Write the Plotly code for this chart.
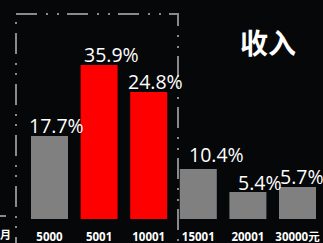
import plotly.graph_objects as go

# ---- data ----
categories = ["5000", "5001", "10001", "15001", "20001", "30000元"]
bar_heights = [83, 154, 127, 50, 27, 32]          # visual bar heights as drawn
pct_labels = ["17.7%", "35.9%", "24.8%", "10.4%", "5.4%", "5.7%"]
highlight = [False, True, True, False, False, False]

# ---- style ----
W, H = 323, 243
B = 24                      # bottom margin (pixels) for tick labels
PH = H - B                  # plot height in px
label_dx = [7, 12, 7, 18, 12, 4]
label_dy = [0, 0, 0, 4, -1, 0]
GREY = "#808080"
RED = "#ff0000"
BG = "#050709"

x_idx = list(range(len(categories)))
colors = [RED if h else GREY for h in highlight]

fig = go.Figure()
fig.add_trace(go.Bar(
    x=x_idx, y=bar_heights, marker=dict(color=colors, line=dict(width=0)),
    width=0.746, hoverinfo="skip",
))

for i, (h, t) in enumerate(zip(bar_heights, pct_labels)):
    fig.add_annotation(
        x=i, y=h, text=t, showarrow=False, xanchor="center", yanchor="bottom",
        xshift=label_dx[i], yshift=-5 + label_dy[i],
        font=dict(family="Open Sans", size=19.5, color="white"),
    )

def px(x):
    return x / W

def py(y):
    return (PH - y) / PH

line_style = dict(color="#8a8a8a", width=2)
# top + right frame line
fig.add_shape(type="path", xref="paper", yref="paper",
              path=f"M{px(16)},{py(14)} L{px(178)},{py(14)} L{px(178)},{py(243)}",
              line=dict(**line_style, dash="21px,9px,2px,9px,2px,8px"))
# left frame line
fig.add_shape(type="line", xref="paper", yref="paper",
              x0=px(16), y0=py(22), x1=px(16), y1=py(243),
              line=dict(**line_style, dash="2px,9px,21px,9px,2px,8px"))
# small stub at far left
fig.add_shape(type="line", xref="paper", yref="paper",
              x0=px(0), y0=py(216), x1=px(6), y1=py(216),
              line=line_style)

fig.add_annotation(xref="paper", yref="paper", x=px(267.5), y=py(41.5),
                   text="<b>收入</b>", showarrow=False,
                   xanchor="center", yanchor="middle",
                   font=dict(family="Noto Sans CJK SC", size=28, color="white"))
fig.add_annotation(xref="paper", yref="paper", x=px(5), y=py(234),
                   text="<b>月</b>", showarrow=False,
                   xanchor="center", yanchor="middle",
                   font=dict(family="Noto Sans CJK SC", size=11, color="white"))

pitch = 49.6
fig.update_layout(
    width=W, height=H,
    margin=dict(l=0, r=0, t=0, b=B, pad=0, autoexpand=False),
    paper_bgcolor=BG, plot_bgcolor=BG,
    showlegend=False,
    xaxis=dict(range=[-49.5 / pitch, 5 + 25.5 / pitch], tickmode="array",
               tickvals=x_idx, ticktext=[f"<b>{c}</b>" for c in categories],
               showgrid=False, zeroline=False, showline=False, ticks="",
               ticklabelstandoff=9, automargin=False,
               tickfont=dict(family="Open Sans, Noto Sans CJK SC", size=11.5, color="white"),
               fixedrange=True),
    yaxis=dict(range=[0, PH], visible=False, fixedrange=True, automargin=False),
)

fig.write_html("out.html", config={"displayModeBar": False},
               post_script="document.body.style.margin='0px';document.body.style.overflow='hidden';")
